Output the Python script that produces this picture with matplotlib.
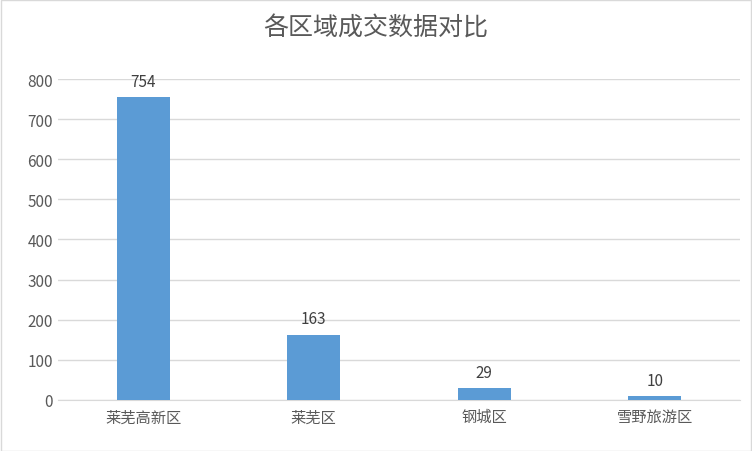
import matplotlib.pyplot as plt
from matplotlib.patches import Rectangle

plt.rcParams['font.family'] = ['Noto Sans CJK SC', 'DejaVu Sans']

categories = ['莱芜高新区', '莱芜区', '钢城区', '雪野旅游区']
values = [754, 163, 29, 10]
yticks = [0, 100, 200, 300, 400, 500, 600, 700, 800]

fig = plt.figure(figsize=(7.52, 4.52), dpi=100)
ax = fig.add_axes([0.077, 0.113, 0.907, 0.71])
fig.patches.append(Rectangle((0.001, 0.001), 0.998, 0.997, transform=fig.transFigure,
                             fill=False, edgecolor='#d9d9d9', linewidth=1))

x = range(len(categories))
ax.bar(x, values, width=0.31, color='#5B9BD5', zorder=3)
for i, v in enumerate(values):
    ax.text(i, v + 18, str(v), ha='center', va='bottom', fontsize=11, color='#404040')

ax.set_xlim(-0.5, len(categories) - 0.5)
ax.set_ylim(0, 800)
ax.set_yticks(yticks)
ax.set_xticks(list(x))
ax.set_xticklabels(categories, fontsize=11, color='#595959')
ax.tick_params(axis='y', labelsize=11, labelcolor='#595959', length=0)
ax.tick_params(axis='x', length=0, pad=6)
ax.grid(axis='y', color='#d9d9d9', linewidth=1, zorder=0)
for s in ['top', 'right', 'left']:
    ax.spines[s].set_visible(False)
ax.spines['bottom'].set_color('#d9d9d9')

fig.suptitle('各区域成交数据对比', y=0.965, fontsize=18, color='#595959')

fig.savefig('out.png', dpi=100)
